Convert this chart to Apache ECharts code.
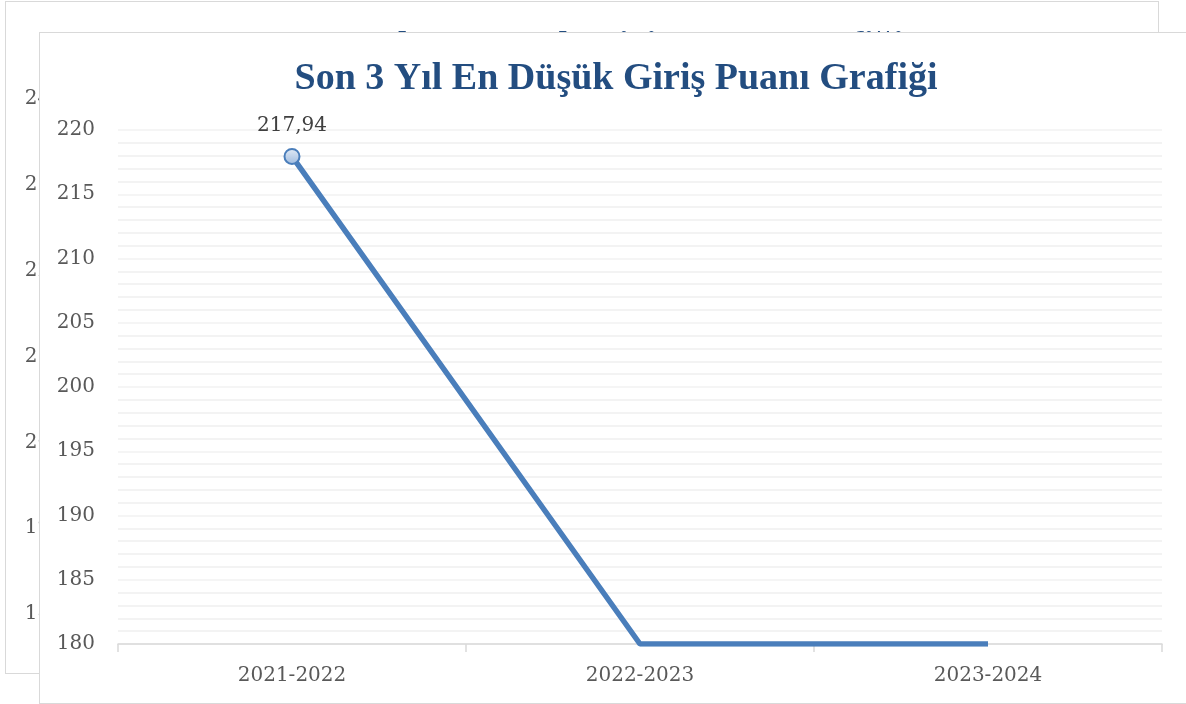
<!DOCTYPE html>
<html lang="tr">

<head>
    <meta charset="UTF-8">
    <title>Son 3 Yıl En Düşük Giriş Puanı Grafiği</title>
    <script src="https://cdn.jsdelivr.net/npm/echarts@6/dist/echarts.min.js"></script>
    <style>
        body {
            margin: 0;
            width: 1186px;
            height: 704px;
            overflow: hidden;
            background: #fff;
            position: relative;
        }

        .chart-box {
            position: absolute;
            background-color: #fff;
            border: 1px solid #d9d9d9;
            box-sizing: border-box;
        }

        #chartBack {
            left: 5px;
            top: 1px;
            width: 1154px;
            height: 673px;
        }

        #chartFront {
            left: 39px;
            top: 32px;
            width: 1154px;
            height: 672px;
        }
    </style>
</head>

<body>
    <div id="chartBack" class="chart-box"></div>
    <div id="chartFront" class="chart-box"></div>

    <script type="text/javascript">
        // veriler
        var titleText = 'Son 3 Yıl En Düşük Giriş Puanı Grafiği';
        var categories = ['2021-2022', '2022-2023', '2023-2024'];
        var values = [217.94, 180, 180];
        var showPoint = [true, false, false];

        // eksen aralıkları (arka kopya ve öndeki grafik)
        var frontAxis = { min: 180, max: 220, interval: 5, margin: 23 };
        var backAxis = { min: 180, max: 240, interval: 10, margin: 21 };

        var labelFont = 'DejaVu Serif';

        function buildOption(axis) {
            var seriesData = values.map(function (v, i) {
                if (showPoint[i]) {
                    return { value: v, symbol: 'circle', label: { show: true } };
                }
                return { value: v, symbol: 'none' };
            });

            return {
                animation: false,
                title: {
                    text: titleText,
                    left: 'center',
                    top: 22,
                    textStyle: {
                        fontFamily: 'Liberation Serif',
                        fontWeight: 'bold',
                        fontSize: 38,
                        color: '#234d80'
                    }
                },
                grid: {
                    left: 78,
                    right: 30,
                    top: 97,
                    bottom: 59
                },
                xAxis: {
                    type: 'category',
                    data: categories,
                    boundaryGap: true,
                    axisLine: { lineStyle: { color: '#d9d9d9', width: 1.5 } },
                    axisTick: { show: true, length: 8, lineStyle: { color: '#d9d9d9', width: 1.5 } },
                    axisLabel: {
                        margin: 22,
                        color: '#595959',
                        fontFamily: labelFont,
                        fontSize: 20
                    },
                    splitLine: { show: false }
                },
                yAxis: {
                    type: 'value',
                    min: axis.min,
                    max: axis.max,
                    interval: axis.interval,
                    axisLine: { show: false },
                    axisTick: { show: false },
                    axisLabel: {
                        margin: axis.margin,
                        color: '#595959',
                        fontFamily: labelFont,
                        fontSize: 20
                    },
                    splitLine: { lineStyle: { color: '#f2f2f2', width: 1.5 } },
                    minorTick: { show: false, splitNumber: 5 },
                    minorSplitLine: { show: true, lineStyle: { color: '#efefef', width: 1.5 } }
                },
                series: [
                    {
                        type: 'line',
                        data: seriesData,
                        symbolSize: 15,
                        lineStyle: { color: '#4a7ebb', width: 5.5 },
                        itemStyle: {
                            color: new echarts.graphic.LinearGradient(0, 0, 0, 1, [
                                { offset: 0, color: '#e4ecf6' },
                                { offset: 1, color: '#9cb9de' }
                            ]),
                            borderColor: '#4a7ebb',
                            borderWidth: 2
                        },
                        label: {
                            position: 'top',
                            distance: 12,
                            color: '#404040',
                            fontFamily: labelFont,
                            fontSize: 20,
                            formatter: function (p) {
                                return String(p.value).replace('.', ',');
                            }
                        },
                        z: 5
                    }
                ]
            };
        }

        var backChart = echarts.init(document.getElementById('chartBack'));
        backChart.setOption(buildOption(backAxis));

        var frontChart = echarts.init(document.getElementById('chartFront'));
        frontChart.setOption(buildOption(frontAxis));
    </script>
</body>

</html>
